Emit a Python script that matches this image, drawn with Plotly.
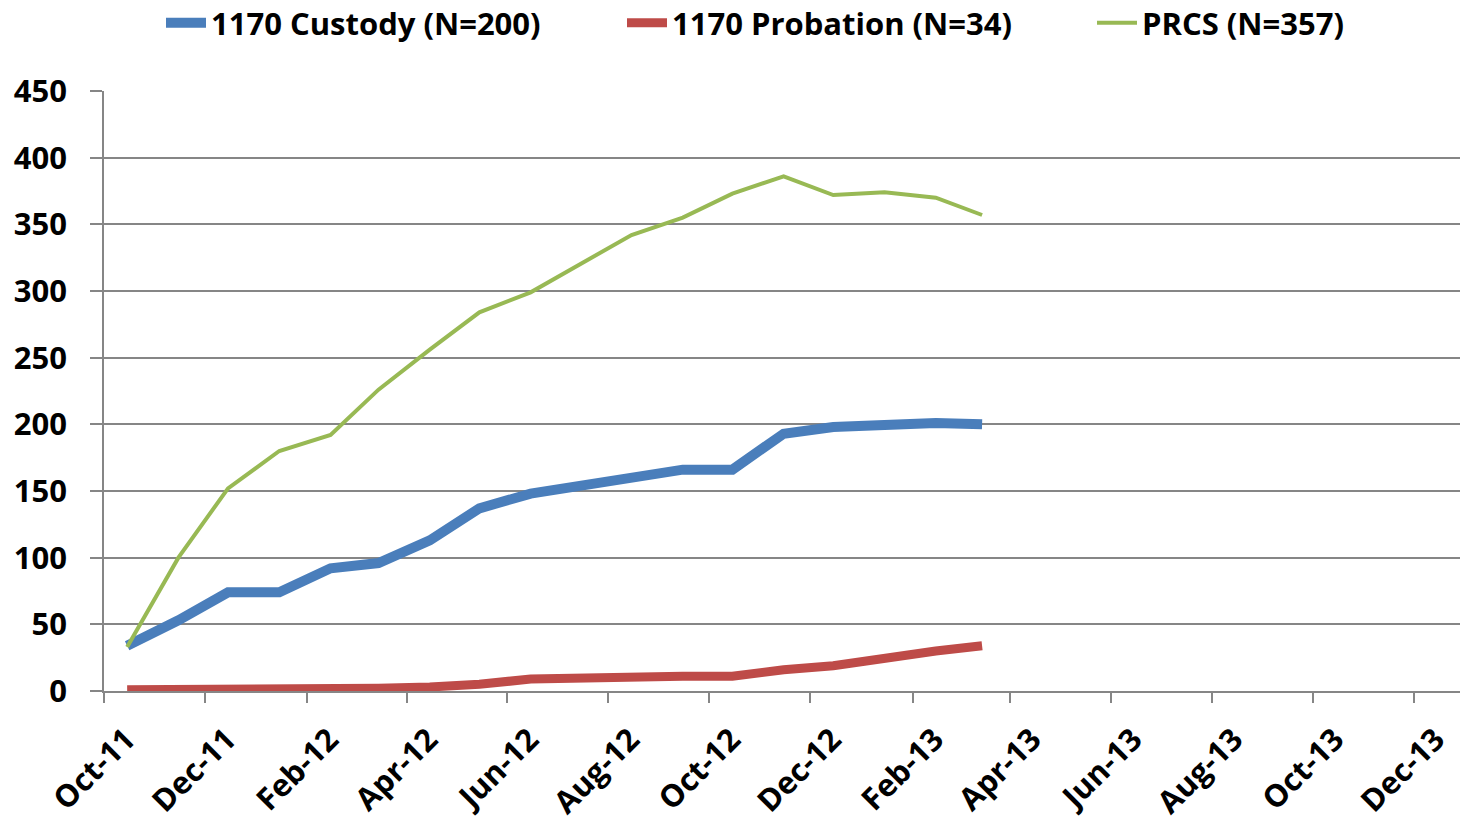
import plotly.graph_objects as go
import pandas as pd

dates = [d.strftime("%Y-%m-%d") for d in pd.date_range("2011-10-01", periods=18, freq="MS") + pd.Timedelta(days=14)]

custody = [34, 53, 74, 74, 92, 96, 113, 137, 148, 154, 161, 166, 166, 193, 198, 200, 201, 200]
probation = [1, 1, 2, 2, 2, 2, 3, 5, 9, 10, 11, 11, 11, 16, 19, 25, 30, 34]
prcs = [33, 100, 152, 180, 192, 226, 256, 284, 299, 320, 342, 355, 373, 386, 372, 374, 370, 357]

names = ["1170 Custody (N=200)", "1170 Probation (N=34)", "PRCS (N=357)"]
colors = ["#4A7EBB", "#BE4B48", "#98B954"]
widths = [10, 9, 4]

tick_dates = pd.date_range("2011-10-01", "2013-12-01", freq="2MS")
tick_vals = [d.strftime("%Y-%m-%d") for d in tick_dates]
tick_text = [d.strftime("%b-%y") for d in tick_dates]

W, H = 1461, 822
ML, MR, MT, MB = 104, 1, 91, 131
PW = W - ML - MR

fig = go.Figure()
legend_ids = ["legend", "legend2", "legend3"]
for vals, nm, c, w, lg in zip([custody, probation, prcs], names, colors, widths, legend_ids):
    fig.add_trace(go.Scatter(x=dates, y=vals, mode="lines", name=nm,
                             line=dict(color=c, width=w), legend=lg))

font = "Open Sans"
text_starts = [211, 672, 1142]

def legend_cfg(px):
    return dict(orientation="h", x=(px - 50 - ML) / PW, xanchor="left",
                y=1 + (MT - 23) / (H - MT - MB), yanchor="middle",
                font=dict(family=font, size=31, weight="bold"),
                itemwidth=40, bgcolor="rgba(0,0,0,0)")

fig.update_layout(
    width=W, height=H,
    margin=dict(l=ML, r=MR, t=MT, b=MB, autoexpand=False),
    plot_bgcolor="white", paper_bgcolor="white",
    font=dict(family=font, color="black"),
    showlegend=True,
    legend=legend_cfg(text_starts[0]),
    legend2=legend_cfg(text_starts[1]),
    legend3=legend_cfg(text_starts[2]),
    xaxis=dict(type="date", range=["2011-10-01", "2013-12-29"], automargin=False,
               tickvals=tick_vals, ticktext=tick_text, tickangle=-45,
               showgrid=False, showline=True, linecolor="#868686", linewidth=1.5,
               ticks="outside", ticklen=10, tickcolor="#868686", tickwidth=1.5,
               tickfont=dict(family=font, size=31, weight="bold"),
               ticklabelshift=22, ticklabelstandoff=6, zeroline=False),
    yaxis=dict(range=[0, 450], tickvals=list(range(0, 451, 50)), automargin=False,
               showgrid=True, gridcolor="#868686", gridwidth=1.5,
               showline=True, linecolor="#868686", linewidth=1.5,
               ticks="outside", ticklen=12, tickcolor="#868686", tickwidth=1.5,
               tickfont=dict(family=font, size=31, weight="bold"),
               ticklabelstandoff=17, zeroline=False),
)
fig.write_html("out.html", config={"displayModeBar": False},
               post_script="document.body.style.margin='0px';")
